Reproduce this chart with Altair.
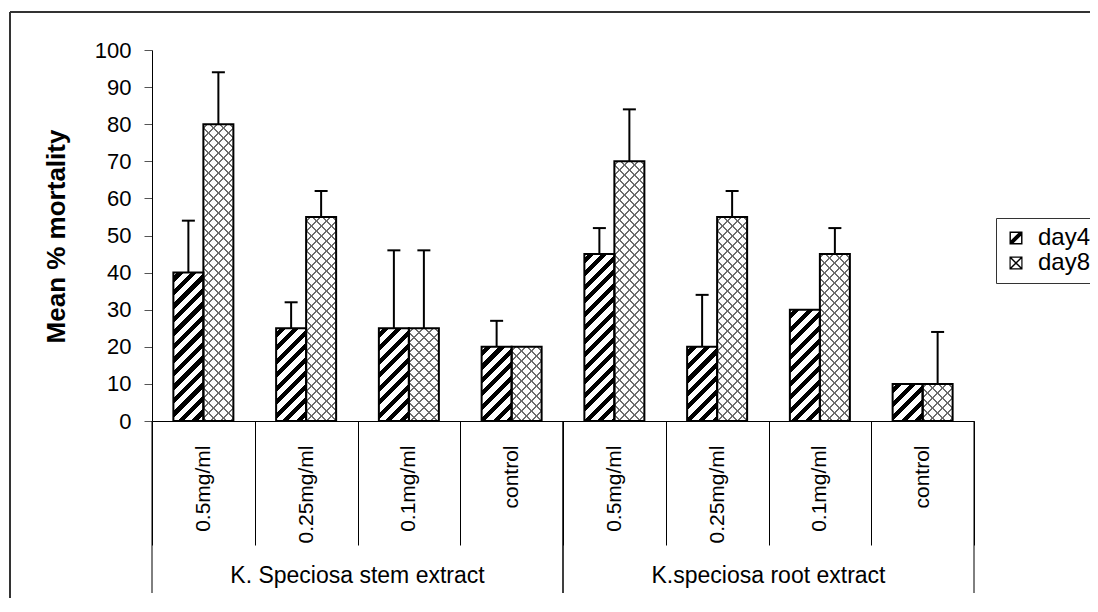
import altair as alt
import pandas as pd

# ---------------- data ----------------
groups = ["K. Speciosa stem extract", "K.speciosa root extract"]
doses = ["0.5mg/ml", "0.25mg/ml", "0.1mg/ml", "control"]
series = ["day4", "day8"]
day4 = [40, 25, 25, 20, 45, 20, 30, 10]
day8 = [80, 55, 25, 20, 70, 55, 45, 10]
day4_err = [14, 7, 21, 7, 7, 14, None, None]
day8_err = [14, 7, 21, None, 14, 7, 7, 14]
y_ticks = list(range(0, 101, 10))
y_title = "Mean % mortality"

# ---------------- layout constants ----------------
W, H = 822, 371
PAD = {"left": 144, "top": 42, "right": 116, "bottom": 177}
FONT = "Liberation Sans"
BAR_W = 30.0

keys = [f"{gi}|{d}" for gi in range(len(groups)) for d in doses]
rows = []
for i, k in enumerate(keys):
    for s, vals, errs in (("day4", day4, day4_err), ("day8", day8, day8_err)):
        e = errs[i]
        rows.append({
            "key": k,
            "series": s,
            "value": vals[i],
            "top": (vals[i] + e) if e is not None else None,
        })
df = pd.DataFrame(rows)

grp_start = pd.DataFrame({"key": [keys[4 * g] for g in range(len(groups))]})
grp_end = pd.DataFrame({"key": [keys[4 * g + 3] for g in range(len(groups))]})
grp_mid = pd.DataFrame({"key": [keys[4 * g + 1] for g in range(len(groups))], "name": groups})
one = pd.DataFrame({"a": [0]})

# ---------------- scales / axes ----------------
xscale = alt.Scale(domain=keys, paddingInner=0, paddingOuter=0)
xoscale = alt.Scale(domain=series, paddingInner=0, paddingOuter=0.7125)
yscale = alt.Scale(domain=[0, 100], nice=False)

xaxis = alt.Axis(
    title=None, labelExpr="split(datum.value, '|')[1]", labelAngle=270,
    labelAlign="right", labelBaseline="middle", labelFontSize=21, labelFont=FONT,
    labelColor="black", labelPadding=-100, tickBand="extent", tickSize=124,
    tickColor="black", tickWidth=1, domainColor="black", domainWidth=1,
    labelOverlap=False, grid=False,
)
yaxis = alt.Axis(
    title=y_title, values=y_ticks, tickSize=8, tickColor="#555", tickWidth=1,
    domainColor="black", domainWidth=1, labelFontSize=22, labelFont=FONT,
    labelColor="black", labelPadding=13, titleFontSize=26, titleFont=FONT,
    titleFontWeight="bold", titleColor="black", titleAngle=270, titleAlign="center",
    titleBaseline="middle", titleX=-96, titleY=186, grid=False,
)


def X(field="key", bp=None):
    if bp is None:
        return alt.X(f"{field}:N", scale=xscale, axis=xaxis)
    return alt.X(f"{field}:N", scale=xscale, axis=xaxis, bandPosition=bp)


XO = alt.XOffset("series:N", scale=xoscale)
Y = alt.Y("value:Q", scale=yscale, axis=yaxis)


def stripe_grad(w, h, period, frac, line, bg, back=False, phase=0.0):
    L = w + h
    den = w * w + h * h
    dx, dy = L * w / den, L * h / den
    if back:
        x1, y1, x2, y2 = 1, 0, 1 - dx, dy
    else:
        x1, y1, x2, y2 = 0, 0, dx, dy
    stops = [{"offset": 0, "color": bg}]
    s = phase
    while s < L:
        a = max(s, 0) / L
        b = min(s + frac * period, L) / L
        if b > 0:
            a, b = round(a, 5), round(b, 5)
            stops += [{"offset": a, "color": bg}, {"offset": a, "color": line},
                      {"offset": b, "color": line}, {"offset": b, "color": bg}]
        s += period
    stops.append({"offset": 1, "color": bg})
    return {"gradient": "linear", "x1": x1, "y1": y1, "x2": x2, "y2": y2, "stops": stops}


layers = []
base = alt.Chart(df)
for i, k in enumerate(keys):
    # day4 : bold diagonal stripes
    h4 = day4[i] * H / 100.0
    g4 = stripe_grad(BAR_W, h4, 13.5, 0.45, "black", "white", phase=4)
    layers.append(
        base.transform_filter(f"datum.key == '{k}' && datum.series == 'day4'")
        .mark_bar(fill=g4, strokeWidth=0)
        .encode(x=X(), xOffset=XO, y=Y)
    )
    # day8 : cross hatch (two families of thin grey lines)
    h8 = day8[i] * H / 100.0
    ga = stripe_grad(BAR_W, h8, 10, 0.2, "#6e6e6e", "white", phase=3)
    gb = stripe_grad(BAR_W, h8, 10, 0.2, "#6e6e6e", "rgba(255,255,255,0)", back=True, phase=3)
    for g in (ga, gb):
        layers.append(
            base.transform_filter(f"datum.key == '{k}' && datum.series == 'day8'")
            .mark_bar(fill=g, strokeWidth=0)
            .encode(x=X(), xOffset=XO, y=Y)
        )

outline = base.mark_bar(fill="transparent", stroke="black", strokeWidth=2).encode(
    x=X(), xOffset=XO, y=Y
)
err_rule = base.transform_filter("isValid(datum.top)").mark_rule(
    color="black", strokeWidth=2
).encode(x=X(), xOffset=XO, y=Y, y2="top:Q")
err_cap = base.transform_filter("isValid(datum.top)").mark_tick(
    color="black", thickness=2, size=13, opacity=1
).encode(x=X(), xOffset=XO, y=alt.Y("top:Q", scale=yscale, axis=yaxis))

div_start = alt.Chart(grp_start).mark_rule(color="black", strokeWidth=1).encode(
    x=X(bp=0), y=alt.value(H), y2=alt.value(H + 172)
)
div_end = alt.Chart(grp_end).mark_rule(color="black", strokeWidth=1).encode(
    x=X(bp=1), y=alt.value(H), y2=alt.value(H + 172)
)
grp_text = alt.Chart(grp_mid).mark_text(
    font=FONT, fontSize=23, color="black", align="center", baseline="alphabetic"
).encode(x=X(bp=1), y=alt.value(H + 162), text="name:N")

# outer frame (top and left edges)
frame_top = alt.Chart(one).mark_rule(color="#333", strokeWidth=2).encode(
    x=alt.value(-142), x2=alt.value(940), y=alt.value(-38)
)
frame_left = alt.Chart(one).mark_rule(color="#333", strokeWidth=2).encode(
    x=alt.value(-142), y=alt.value(-38), y2=alt.value(H + 180)
)

# legend
p4 = ("M-1,-1H1V1H-1Z M-0.78,-0.78V0.78H0.78V-0.78Z "
      "M-0.78,0.35L0.35,-0.78L0.78,-0.78L0.78,-0.35L-0.35,0.78L-0.78,0.78Z")
p8 = ("M-1,-1H1V1H-1Z M-0.82,-0.82V0.82H0.82V-0.82Z "
      "M-0.82,0.66L0.66,-0.82L0.82,-0.82L0.82,-0.66L-0.66,0.82L-0.82,0.82Z "
      "M-0.82,-0.82L-0.66,-0.82L0.82,0.66L0.82,0.82L0.66,0.82L-0.82,-0.66Z")
legend_layer = base.transform_filter("false").mark_point(
    filled=True, fill="black", opacity=1, strokeWidth=0
).encode(
    shape=alt.Shape(
        "series:N",
        scale=alt.Scale(domain=series, range=[p4, p8]),
        legend=alt.Legend(
            title=None, orient="none", legendX=844, legendY=168,
            strokeColor="#333", fillColor="white", padding=8, cornerRadius=0,
            labelFont=FONT, labelFontSize=24, labelColor="black", labelOffset=10,
            symbolSize=169, rowPadding=1, symbolStrokeWidth=0,
        ),
    )
)

chart = alt.layer(
    *layers, outline, err_rule, err_cap, div_start, div_end, grp_text,
    frame_top, frame_left, legend_layer,
).properties(
    width=W, height=H, padding=PAD, autosize=alt.AutoSizeParams(type="none"),
    background="white",
).configure_view(stroke="transparent")

chart.save("out.html", embed_options={"renderer": "svg", "actions": False})
